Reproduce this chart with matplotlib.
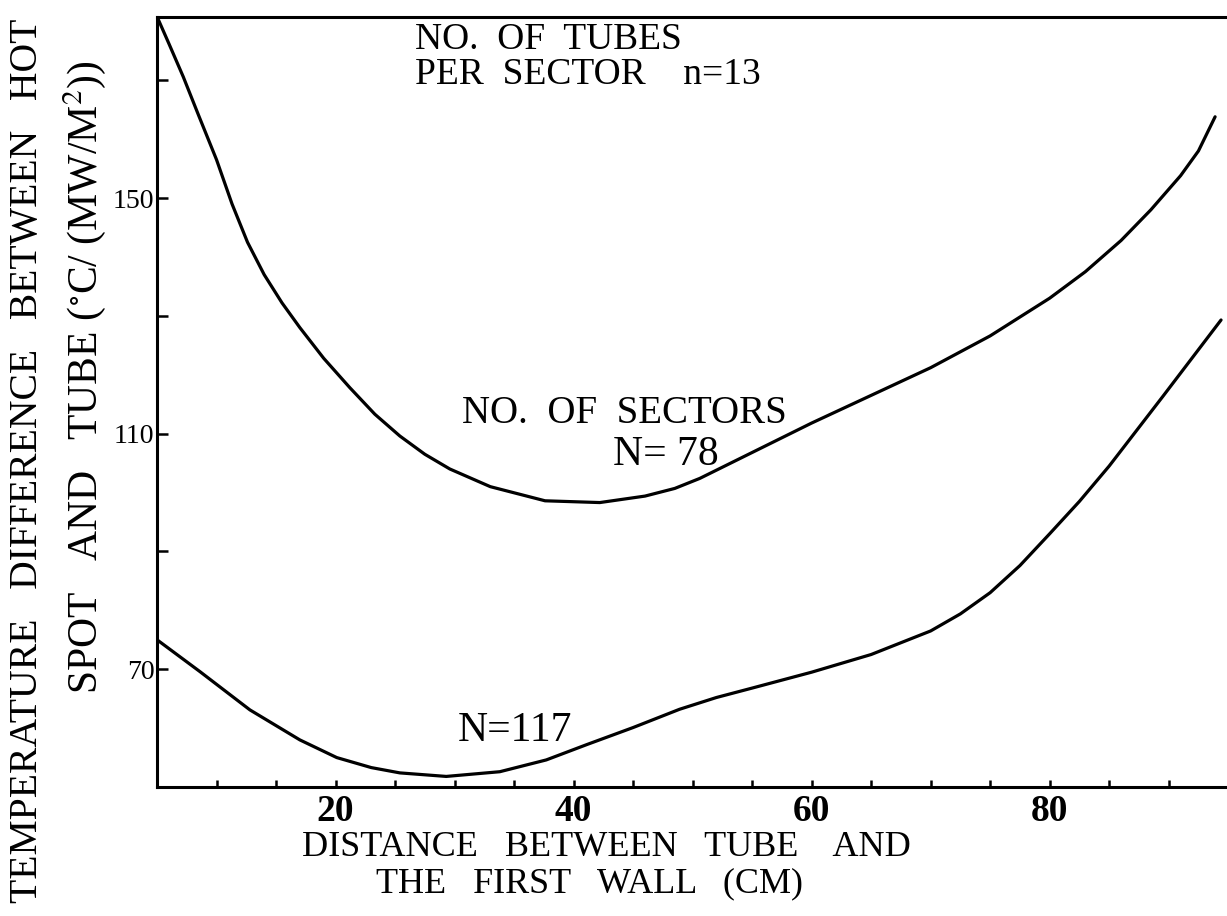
import numpy as np
import matplotlib
matplotlib.use('Agg')
import matplotlib.pyplot as plt
from matplotlib.ticker import FixedLocator

# distance between tube and first wall (cm) vs hot spot temperature difference
dist_78 = [5, 6, 7.2, 8.5, 10, 11.3, 12.6, 14, 15.5, 17, 19, 21.2, 23.3, 25.4,
           27.5, 29.6, 33, 37.6, 42.2, 46, 48.5, 50.6, 55, 60, 65, 70, 75, 80,
           83, 86, 88.5, 91, 92.5, 93.9]
temp_78 = [180.8, 176.2, 170.6, 164.0, 156.5, 149.0, 142.5, 137.0, 132.2, 128.0,
           122.8, 117.8, 113.3, 109.6, 106.5, 104.0, 101.0, 98.6, 98.3, 99.4,
           100.7, 102.4, 106.8, 111.8, 116.5, 121.2, 126.6, 133.0, 137.5, 142.8,
           148.0, 153.8, 158.0, 163.8]

dist_117 = [5, 8.6, 12.8, 17, 20.1, 23, 25.4, 29.3, 33.8, 37.7, 41.1, 45, 48.9,
            52, 55, 60, 65, 70, 72.5, 75, 77.5, 80, 82.5, 85, 89.5, 94.4]
temp_117 = [75.0, 69.6, 63.1, 58.0, 55.0, 53.3, 52.4, 51.8, 52.6, 54.6, 57.2,
            60.1, 63.2, 65.2, 66.8, 69.5, 72.5, 76.5, 79.4, 83.0, 87.6, 93.0,
            98.5, 104.5, 116.3, 129.3]

xmajor = [20, 40, 60, 80]
xminor = [10, 15, 25, 30, 35, 45, 50, 55, 65, 70, 75, 85, 90]
ymajor = [70, 110, 150]
yminor = [90, 130, 170]

plt.rcParams['font.family'] = ['Liberation Serif', 'DejaVu Serif']
plt.rcParams['mathtext.fontset'] = 'stix'

fig = plt.figure(figsize=(12.27, 9.16), dpi=100)
ax = fig.add_axes([0.128, 0.1408, 0.872, 0.841])

ax.plot(dist_78, temp_78, 'k', lw=2.3, solid_capstyle='round')
ax.plot(dist_117, temp_117, 'k', lw=2.3, solid_capstyle='round')

ax.set_xlim([5, 94.9])
ax.set_ylim([50, 180.8])

for s in ['left', 'bottom', 'top']:
    ax.spines[s].set_linewidth(2.2)
ax.spines['right'].set_visible(False)

ax.xaxis.set_major_locator(FixedLocator(xmajor))
ax.xaxis.set_minor_locator(FixedLocator(xminor))
ax.yaxis.set_major_locator(FixedLocator(ymajor))
ax.yaxis.set_minor_locator(FixedLocator(yminor))
ax.set_xticklabels([str(v) for v in xmajor], fontsize=27, fontweight='bold')
ax.set_yticklabels([str(v) for v in ymajor], fontsize=20)
ax.tick_params(axis='x', which='both', direction='in', length=5, width=1.8, pad=5)
ax.tick_params(axis='y', which='both', direction='in', length=8, width=1.8, pad=2)
ax.tick_params(top=False, right=False)

# curve annotations
ax.text(26.7, 176.9, 'NO.  OF  TUBES', fontsize=27, va='center', ha='left')
ax.text(26.7, 171.0, 'PER  SECTOR    n=13', fontsize=27, va='center', ha='left')
ax.text(30.6, 113.4, 'NO.  OF  SECTORS', fontsize=28, va='center', ha='left')
ax.text(43.3, 106.4, 'N= 78', fontsize=30, va='center', ha='left')
ax.text(30.3, 59.6, 'N=117', fontsize=30, va='center', ha='left')

# axis titles, two lines each
fig.text(606/1227, 1-847/916, 'DISTANCE   BETWEEN   TUBE    AND',
         fontsize=26, ha='center', va='center')
fig.text(590/1227, 1-884/916, 'THE   FIRST   WALL   (CM)',
         fontsize=26, ha='center', va='center')
fig.text(28/1227, 1-461/916, 'TEMPERATURE   DIFFERENCE   BETWEEN   HOT',
         fontsize=28.5, ha='center', va='center', rotation=90)
fig.text(85/1227, 1-377/916, 'SPOT   AND   TUBE ($^{\\circ}$C/ (MW/M$^{2}$))',
         fontsize=30, ha='center', va='center', rotation=90)

fig.savefig('out.png', dpi=100)
